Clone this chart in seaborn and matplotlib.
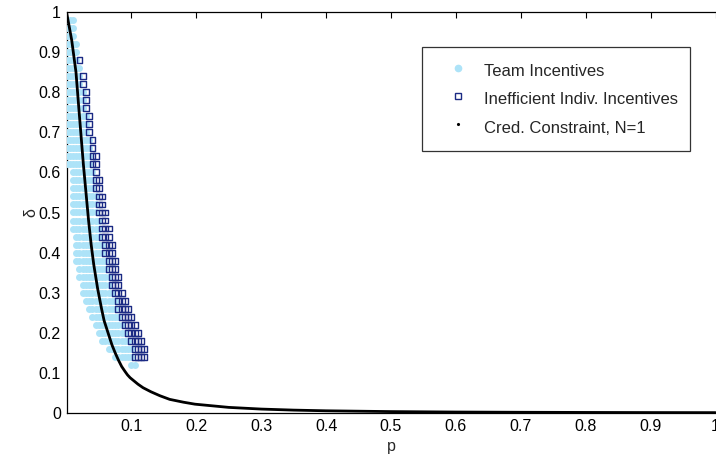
import numpy as np
import pandas as pd
import matplotlib
matplotlib.use("Agg")
import matplotlib.pyplot as plt
from matplotlib.lines import Line2D
import seaborn as sns

# grid rows (delta) and p-ranges, p grid step 0.005
delta_rows = [0.98, 0.96, 0.94, 0.92, 0.90, 0.88, 0.86, 0.84, 0.82, 0.80, 0.78,
              0.76, 0.74, 0.72, 0.70, 0.68, 0.66, 0.64, 0.62, 0.60, 0.58, 0.56,
              0.54, 0.52, 0.50, 0.48, 0.46, 0.44, 0.42, 0.40, 0.38, 0.36, 0.34,
              0.32, 0.30, 0.28, 0.26, 0.24, 0.22, 0.20, 0.18, 0.16, 0.14, 0.12]
team_lo = [0.0] * 19 + [0.01] * 8 + [0.015] * 4 + [0.02, 0.02, 0.025, 0.025,
           0.03, 0.035, 0.04, 0.045, 0.05, 0.055, 0.065, 0.075, 0.10]
team_hi = [0.01, 0.01, 0.01, 0.015, 0.015, 0.015, 0.02, 0.02, 0.02, 0.025, 0.025,
           0.025, 0.03, 0.03, 0.03, 0.035, 0.035, 0.035, 0.035, 0.04, 0.04, 0.04,
           0.045, 0.045, 0.045, 0.05, 0.05, 0.05, 0.055, 0.055, 0.06, 0.06, 0.065,
           0.065, 0.07, 0.075, 0.075, 0.08, 0.085, 0.09, 0.095, 0.10, 0.10, 0.105]
indiv_hi = [0.01, 0.01, 0.01, 0.015, 0.015, 0.02, 0.02, 0.025, 0.025, 0.03, 0.03,
            0.03, 0.035, 0.035, 0.035, 0.04, 0.04, 0.045, 0.045, 0.045, 0.05, 0.05,
            0.055, 0.055, 0.06, 0.06, 0.065, 0.065, 0.07, 0.07, 0.075, 0.075, 0.08,
            0.08, 0.085, 0.09, 0.095, 0.10, 0.105, 0.11, 0.115, 0.12, 0.12, 0.105]
p_step = 0.005

# credibility constraint curve, N=1
cred_p = [0.0, 0.004, 0.008, 0.0146, 0.019, 0.026, 0.030, 0.034, 0.038, 0.042,
          0.048, 0.054, 0.058, 0.062, 0.066, 0.070, 0.075, 0.080, 0.085, 0.090,
          0.094, 0.098, 0.104, 0.110, 0.118, 0.130, 0.144, 0.159, 0.180, 0.198,
          0.25, 0.30, 0.35, 0.40, 0.50, 0.60, 0.70, 0.80, 0.90, 1.0]
cred_d = [1.0, 0.965, 0.93, 0.85, 0.76, 0.62, 0.55, 0.48, 0.42, 0.37,
          0.31, 0.26, 0.23, 0.21, 0.19, 0.17, 0.15, 0.132, 0.116, 0.104,
          0.095, 0.088, 0.080, 0.072, 0.063, 0.053, 0.043, 0.034, 0.027, 0.022,
          0.014, 0.0098, 0.0072, 0.0055, 0.0035, 0.0024, 0.0018, 0.0014, 0.0011, 0.0009]

team_pts, indiv_pts = [], []
for d, lo, hi, ih in zip(delta_rows, team_lo, team_hi, indiv_hi):
    for p in np.arange(lo, hi + 1e-9, p_step):
        team_pts.append((round(p, 3), d))
    for p in np.arange(hi + p_step, ih + 1e-9, p_step):
        indiv_pts.append((round(p, 3), d))
team = pd.DataFrame(team_pts, columns=["p", "delta"])
indiv = pd.DataFrame(indiv_pts, columns=["p", "delta"])
cred = pd.DataFrame({"p": cred_p, "delta": cred_d})

sns.set_style("white")
plt.rcParams["font.family"] = ["Liberation Sans", "DejaVu Sans"]
plt.rcParams["font.size"] = 11.5

light_blue = "#ADE3F8"
navy = "#1B2A84"

fig = plt.figure(figsize=(7.16, 4.61), dpi=100)
ax = fig.add_axes([66.5 / 716, 48 / 461, 649 / 716, 401 / 461])

sns.scatterplot(data=team, x="p", y="delta", ax=ax, color=light_blue, s=25,
                linewidth=0, marker="o", legend=False, zorder=3)
sns.scatterplot(data=indiv, x="p", y="delta", ax=ax, marker="s", s=18,
                facecolor="none", edgecolor=navy, linewidth=1.0, legend=False,
                zorder=4)
sns.lineplot(data=cred, x="p", y="delta", ax=ax, color="black", lw=2.0,
             estimator=None, sort=False, zorder=5)

ax.set_xlim(0, 1)
ax.set_ylim(0, 1)
ax.set_xticks(np.arange(1, 11) / 10)
ax.set_xticklabels(["0.1", "0.2", "0.3", "0.4", "0.5", "0.6", "0.7", "0.8", "0.9", "1"])
ax.set_yticks(np.arange(0, 11) / 10)
ax.set_yticklabels(["0", "0.1", "0.2", "0.3", "0.4", "0.5", "0.6", "0.7", "0.8", "0.9", "1"])
ax.tick_params(direction="in", length=4, width=0.8, top=True, right=False,
               labelsize=11.5, colors="black", pad=4)
for sp in ax.spines.values():
    sp.set_color("black")
    sp.set_linewidth(0.9)
# right edge of the box falls outside the image in the original
ax.spines["right"].set_visible(False)
ax.set_xlabel("p", fontsize=11.5, labelpad=4)
ax.set_ylabel("δ", fontsize=11.5, labelpad=0)

handles = [
    Line2D([], [], marker="o", linestyle="none", markersize=4.5,
           markerfacecolor=light_blue, markeredgecolor=light_blue),
    Line2D([], [], marker="s", linestyle="none", markersize=5,
           markerfacecolor="none", markeredgecolor=navy, markeredgewidth=1.0),
    Line2D([], [], marker=".", linestyle="none", markersize=2.5, color="black"),
]
labels = ["Team Incentives", "Inefficient Indiv. Incentives", "Cred. Constraint, N=1"]
leg = ax.legend(handles, labels, loc="upper right",
                bbox_to_anchor=((690 - 66.5) / 649, (412 - 47) / 400),
                frameon=True, fancybox=False, borderpad=0.75, handlelength=2.75,
                handleheight=1.68, labelspacing=0.36, handletextpad=0.18,
                borderaxespad=0.0, fontsize=12)
leg.get_frame().set_edgecolor("black")
leg.get_frame().set_linewidth(0.9)

fig.savefig("out.png", dpi=100)
